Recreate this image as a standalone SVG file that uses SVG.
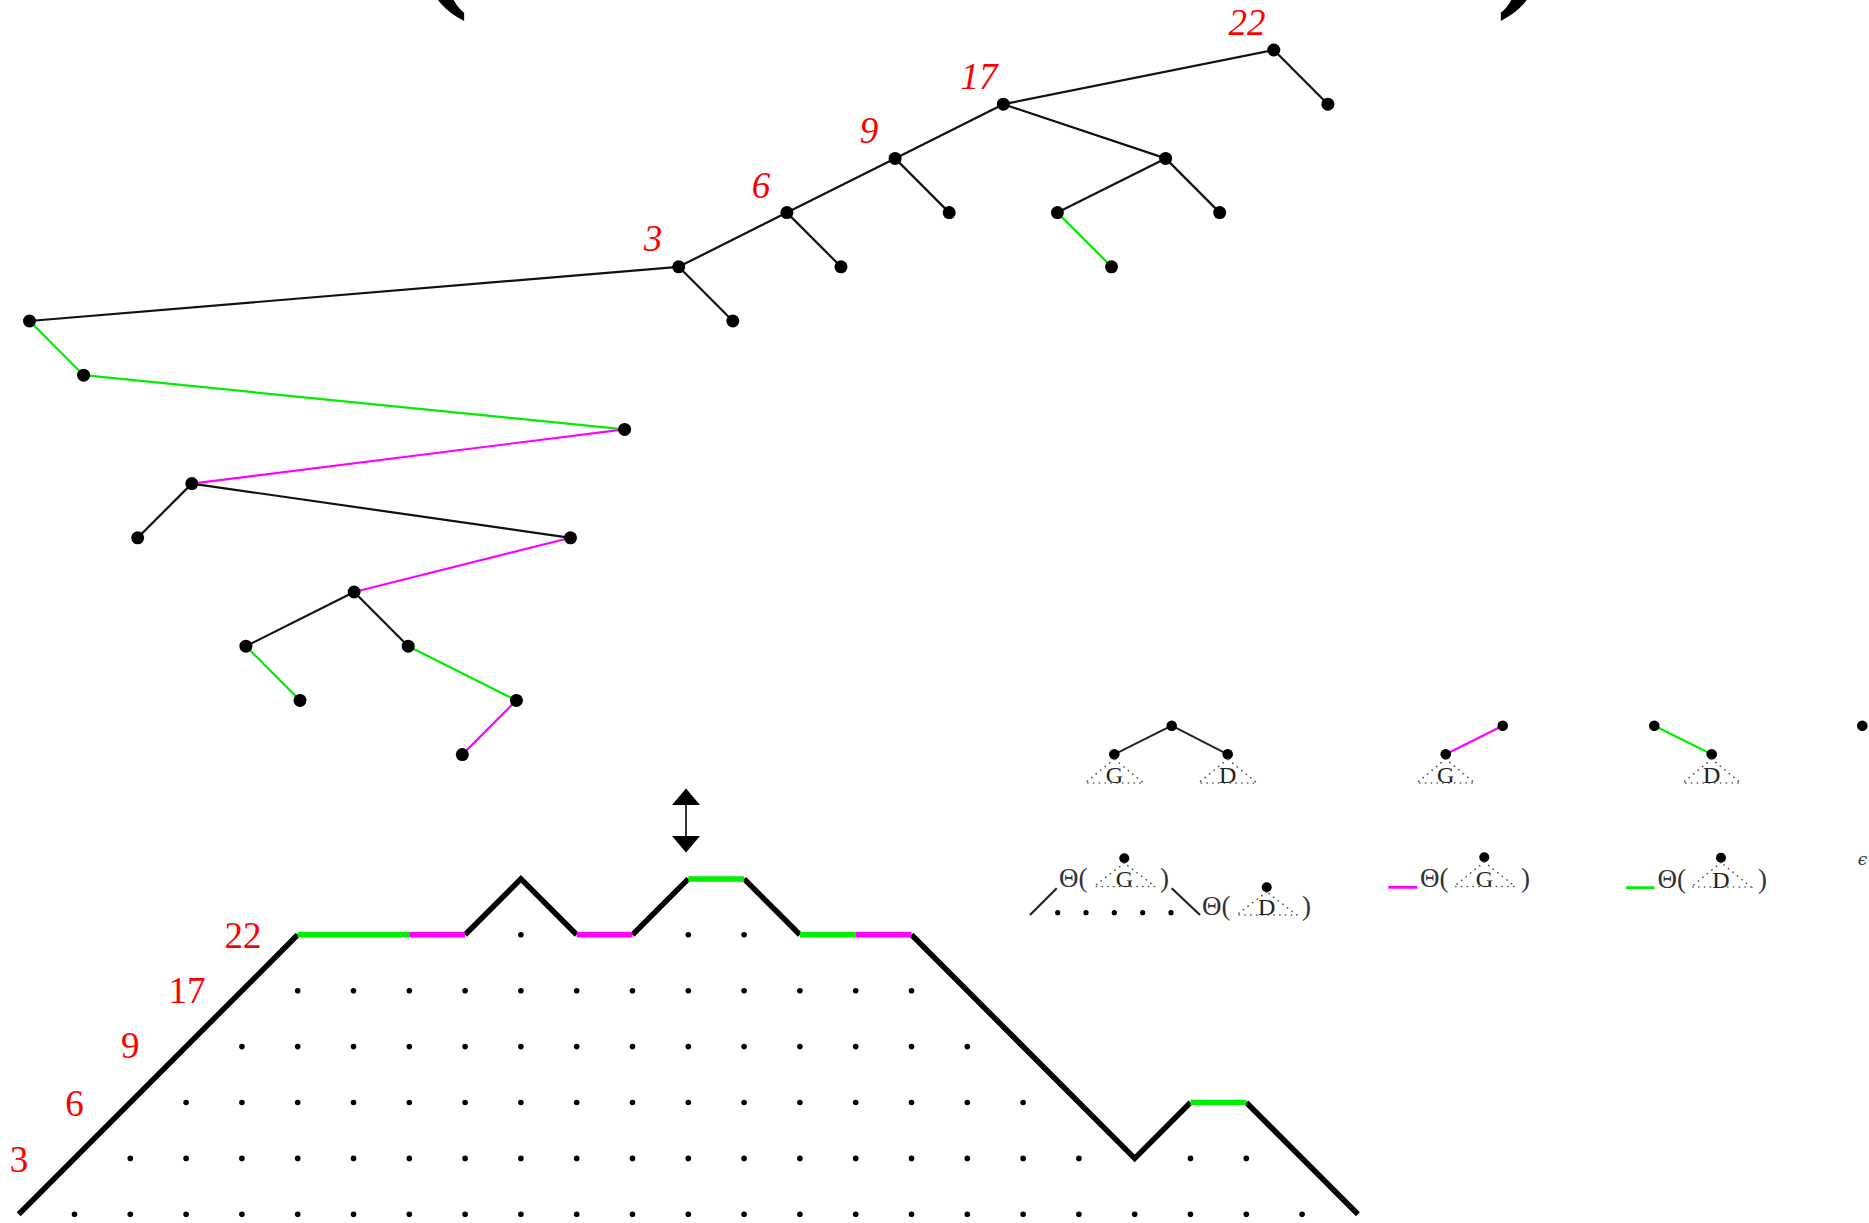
<svg xmlns="http://www.w3.org/2000/svg" width="1869" height="1223" viewBox="0 0 1869 1223">
<style>
.e{stroke:#111;stroke-width:2.2;fill:none}
.eg{stroke:#00ee00;stroke-width:2.2;fill:none}
.em{stroke:#ff00ff;stroke-width:2.2;fill:none}
.nd{fill:#000}
.lab{font-family:"Liberation Serif",serif;font-style:italic;font-size:37px;fill:#ff0000;text-anchor:middle}
.hl{font-family:"Liberation Serif",serif;font-size:37px;fill:#ff0000;text-anchor:middle}
.pb{stroke:#000;stroke-width:5.5;fill:none;stroke-linejoin:miter}
.pg{stroke:#00ee00;stroke-width:5.5;fill:none}
.pm{stroke:#ff00ff;stroke-width:5.5;fill:none}
.tri{fill:none;stroke:#555;stroke-width:1.6;stroke-dasharray:0.3 5.5;stroke-linecap:round}
.lt{font-family:"Liberation Serif",serif;font-size:27px;fill:#333}
.gd{font-family:"Liberation Serif",serif;font-size:24px;fill:#222;text-anchor:middle}
.par{font-family:"Liberation Serif",serif;font-size:150px;font-weight:bold;fill:#000}
</style>
<defs>
<marker id="ah" markerUnits="userSpaceOnUse" markerWidth="17" markerHeight="28" refX="0" refY="13.5" orient="auto-start-reverse" viewBox="0 0 16 27">
<path d="M0,0 L16,13.5 L0,27 z" fill="#000"/>
</marker>
</defs>

<g id="top-parens">
<text class="par" x="419" y="-11">(</text>
<text class="par" x="1496" y="-11">)</text>
</g>

<g id="connectors">
<line class="e" x1="1273.8" y1="50" x2="1003.3" y2="104.2"/>
<line class="e" x1="1273.8" y1="50" x2="1327.9" y2="104.2"/>
<line class="e" x1="1003.3" y1="104.2" x2="895.1" y2="158.4"/>
<line class="e" x1="1003.3" y1="104.2" x2="1165.6" y2="158.4"/>
<line class="e" x1="1165.6" y1="158.4" x2="1057.4" y2="212.6"/>
<line class="e" x1="1165.6" y1="158.4" x2="1219.7" y2="212.6"/>
<line class="e" x1="895.1" y1="158.4" x2="786.9" y2="212.6"/>
<line class="e" x1="895.1" y1="158.4" x2="949.2" y2="212.6"/>
<line class="e" x1="786.9" y1="212.6" x2="678.7" y2="266.8"/>
<line class="e" x1="786.9" y1="212.6" x2="841.0" y2="266.8"/>
<line class="e" x1="678.7" y1="266.8" x2="29.5" y2="321"/>
<line class="e" x1="678.7" y1="266.8" x2="732.8" y2="321"/>
<line class="e" x1="191.8" y1="483.6" x2="137.7" y2="537.8"/>
<line class="e" x1="191.8" y1="483.6" x2="570.5" y2="537.8"/>
<line class="e" x1="354.1" y1="592" x2="245.9" y2="646.2"/>
<line class="e" x1="354.1" y1="592" x2="408.2" y2="646.2"/>
<line class="eg" x1="1057.4" y1="212.6" x2="1111.5" y2="266.8"/>
<line class="eg" x1="29.5" y1="321" x2="83.6" y2="375.2"/>
<line class="eg" x1="83.6" y1="375.2" x2="624.6" y2="429.4"/>
<line class="eg" x1="245.9" y1="646.2" x2="300.0" y2="700.4"/>
<line class="eg" x1="408.2" y1="646.2" x2="516.4" y2="700.4"/>
<line class="em" x1="624.6" y1="429.4" x2="191.8" y2="483.6"/>
<line class="em" x1="570.5" y1="537.8" x2="354.1" y2="592"/>
<line class="em" x1="516.4" y1="700.4" x2="462.3" y2="754.6"/>
</g>

<g id="tree-nodes">
<g id="n22"><circle class="nd" cx="1273.8" cy="50" r="6.5"/><text class="lab" x="1247" y="35">22</text></g>
<g id="n22r"><circle class="nd" cx="1327.9" cy="104.2" r="6.5"/></g>
<g id="n17"><circle class="nd" cx="1003.3" cy="104.2" r="6.5"/><text class="lab" x="979" y="89">17</text></g>
<g id="n9"><circle class="nd" cx="895.1" cy="158.4" r="6.5"/><text class="lab" x="869" y="143">9</text></g>
<g id="n9r"><circle class="nd" cx="949.2" cy="212.6" r="6.5"/></g>
<g id="n17r"><circle class="nd" cx="1165.6" cy="158.4" r="6.5"/></g>
<g id="n17rl"><circle class="nd" cx="1057.4" cy="212.6" r="6.5"/></g>
<g id="n17rr"><circle class="nd" cx="1219.7" cy="212.6" r="6.5"/></g>
<g id="n17rlr"><circle class="nd" cx="1111.5" cy="266.8" r="6.5"/></g>
<g id="n6"><circle class="nd" cx="786.9" cy="212.6" r="6.5"/><text class="lab" x="761" y="198">6</text></g>
<g id="n6r"><circle class="nd" cx="841.0" cy="266.8" r="6.5"/></g>
<g id="n3"><circle class="nd" cx="678.7" cy="266.8" r="6.5"/><text class="lab" x="653" y="251">3</text></g>
<g id="n3r"><circle class="nd" cx="732.8" cy="321" r="6.5"/></g>
<g id="nA"><circle class="nd" cx="29.5" cy="321" r="6.5"/></g>
<g id="nB"><circle class="nd" cx="83.6" cy="375.2" r="6.5"/></g>
<g id="nC"><circle class="nd" cx="624.6" cy="429.4" r="6.5"/></g>
<g id="nD"><circle class="nd" cx="191.8" cy="483.6" r="6.5"/></g>
<g id="nE"><circle class="nd" cx="137.7" cy="537.8" r="6.5"/></g>
<g id="nF"><circle class="nd" cx="570.5" cy="537.8" r="6.5"/></g>
<g id="nG"><circle class="nd" cx="354.1" cy="592" r="6.5"/></g>
<g id="nH"><circle class="nd" cx="245.9" cy="646.2" r="6.5"/></g>
<g id="nI"><circle class="nd" cx="408.2" cy="646.2" r="6.5"/></g>
<g id="nJ"><circle class="nd" cx="300.0" cy="700.4" r="6.5"/></g>
<g id="nK"><circle class="nd" cx="516.4" cy="700.4" r="6.5"/></g>
<g id="nL"><circle class="nd" cx="462.3" cy="754.6" r="6.5"/></g>
</g>

<g id="arrow">
<line x1="686" y1="805" x2="686" y2="836" stroke="#000" stroke-width="1.6" marker-start="url(#ah)" marker-end="url(#ah)"/>
</g>

<g id="lattice-dots" fill="#000">
<circle cx="74.5" cy="1214.3" r="2.8"/><circle cx="130.3" cy="1214.3" r="2.8"/><circle cx="186.1" cy="1214.3" r="2.8"/><circle cx="241.9" cy="1214.3" r="2.8"/><circle cx="297.7" cy="1214.3" r="2.8"/><circle cx="353.5" cy="1214.3" r="2.8"/><circle cx="409.3" cy="1214.3" r="2.8"/><circle cx="465.1" cy="1214.3" r="2.8"/><circle cx="520.9" cy="1214.3" r="2.8"/><circle cx="576.7" cy="1214.3" r="2.8"/><circle cx="632.5" cy="1214.3" r="2.8"/><circle cx="688.3" cy="1214.3" r="2.8"/><circle cx="744.1" cy="1214.3" r="2.8"/><circle cx="799.9" cy="1214.3" r="2.8"/><circle cx="855.7" cy="1214.3" r="2.8"/><circle cx="911.5" cy="1214.3" r="2.8"/><circle cx="967.3" cy="1214.3" r="2.8"/><circle cx="1023.1" cy="1214.3" r="2.8"/><circle cx="1078.9" cy="1214.3" r="2.8"/><circle cx="1134.7" cy="1214.3" r="2.8"/><circle cx="1190.5" cy="1214.3" r="2.8"/><circle cx="1246.3" cy="1214.3" r="2.8"/><circle cx="1302.1" cy="1214.3" r="2.8"/>
<circle cx="130.3" cy="1158.4" r="2.8"/><circle cx="186.1" cy="1158.4" r="2.8"/><circle cx="241.9" cy="1158.4" r="2.8"/><circle cx="297.7" cy="1158.4" r="2.8"/><circle cx="353.5" cy="1158.4" r="2.8"/><circle cx="409.3" cy="1158.4" r="2.8"/><circle cx="465.1" cy="1158.4" r="2.8"/><circle cx="520.9" cy="1158.4" r="2.8"/><circle cx="576.7" cy="1158.4" r="2.8"/><circle cx="632.5" cy="1158.4" r="2.8"/><circle cx="688.3" cy="1158.4" r="2.8"/><circle cx="744.1" cy="1158.4" r="2.8"/><circle cx="799.9" cy="1158.4" r="2.8"/><circle cx="855.7" cy="1158.4" r="2.8"/><circle cx="911.5" cy="1158.4" r="2.8"/><circle cx="967.3" cy="1158.4" r="2.8"/><circle cx="1023.1" cy="1158.4" r="2.8"/><circle cx="1078.9" cy="1158.4" r="2.8"/><circle cx="1190.5" cy="1158.4" r="2.8"/><circle cx="1246.3" cy="1158.4" r="2.8"/>
<circle cx="186.1" cy="1102.5" r="2.8"/><circle cx="241.9" cy="1102.5" r="2.8"/><circle cx="297.7" cy="1102.5" r="2.8"/><circle cx="353.5" cy="1102.5" r="2.8"/><circle cx="409.3" cy="1102.5" r="2.8"/><circle cx="465.1" cy="1102.5" r="2.8"/><circle cx="520.9" cy="1102.5" r="2.8"/><circle cx="576.7" cy="1102.5" r="2.8"/><circle cx="632.5" cy="1102.5" r="2.8"/><circle cx="688.3" cy="1102.5" r="2.8"/><circle cx="744.1" cy="1102.5" r="2.8"/><circle cx="799.9" cy="1102.5" r="2.8"/><circle cx="855.7" cy="1102.5" r="2.8"/><circle cx="911.5" cy="1102.5" r="2.8"/><circle cx="967.3" cy="1102.5" r="2.8"/><circle cx="1023.1" cy="1102.5" r="2.8"/>
<circle cx="241.9" cy="1046.6" r="2.8"/><circle cx="297.7" cy="1046.6" r="2.8"/><circle cx="353.5" cy="1046.6" r="2.8"/><circle cx="409.3" cy="1046.6" r="2.8"/><circle cx="465.1" cy="1046.6" r="2.8"/><circle cx="520.9" cy="1046.6" r="2.8"/><circle cx="576.7" cy="1046.6" r="2.8"/><circle cx="632.5" cy="1046.6" r="2.8"/><circle cx="688.3" cy="1046.6" r="2.8"/><circle cx="744.1" cy="1046.6" r="2.8"/><circle cx="799.9" cy="1046.6" r="2.8"/><circle cx="855.7" cy="1046.6" r="2.8"/><circle cx="911.5" cy="1046.6" r="2.8"/><circle cx="967.3" cy="1046.6" r="2.8"/>
<circle cx="297.7" cy="990.7" r="2.8"/><circle cx="353.5" cy="990.7" r="2.8"/><circle cx="409.3" cy="990.7" r="2.8"/><circle cx="465.1" cy="990.7" r="2.8"/><circle cx="520.9" cy="990.7" r="2.8"/><circle cx="576.7" cy="990.7" r="2.8"/><circle cx="632.5" cy="990.7" r="2.8"/><circle cx="688.3" cy="990.7" r="2.8"/><circle cx="744.1" cy="990.7" r="2.8"/><circle cx="799.9" cy="990.7" r="2.8"/><circle cx="855.7" cy="990.7" r="2.8"/><circle cx="911.5" cy="990.7" r="2.8"/>
<circle cx="520.9" cy="934.8" r="2.8"/><circle cx="688.3" cy="934.8" r="2.8"/><circle cx="744.1" cy="934.8" r="2.8"/>
</g>

<g id="lattice-path">
<polyline class="pb" points="18.7,1214.3 297.7,934.8"/>
<polyline class="pb" points="465.1,934.8 520.9,878.9 576.7,934.8"/>
<polyline class="pb" points="632.5,934.8 688.3,878.9"/>
<polyline class="pb" points="744.1,878.9 799.9,934.8"/>
<polyline class="pb" points="911.5,934.8 1134.7,1158.4 1190.5,1102.5"/>
<polyline class="pb" points="1246.3,1102.5 1357.9,1214.3"/>
<line class="pg" x1="297.7" y1="934.8" x2="409.3" y2="934.8"/>
<line class="pm" x1="409.3" y1="934.8" x2="465.1" y2="934.8"/>
<line class="pm" x1="576.7" y1="934.8" x2="632.5" y2="934.8"/>
<line class="pg" x1="688.3" y1="878.9" x2="744.1" y2="878.9"/>
<line class="pg" x1="799.9" y1="934.8" x2="855.7" y2="934.8"/>
<line class="pm" x1="855.7" y1="934.8" x2="911.5" y2="934.8"/>
<line class="pg" x1="1190.5" y1="1102.5" x2="1246.3" y2="1102.5"/>
</g>

<g id="height-labels">
<text class="hl" x="19" y="1172">3</text>
<text class="hl" x="74.5" y="1116">6</text>
<text class="hl" x="130.3" y="1058">9</text>
<text class="hl" x="187" y="1003">17</text>
<text class="hl" x="243" y="948">22</text>
</g>

<g id="legend-tree">
<line x1="1171.7" y1="725.7" x2="1114.3" y2="754.3" stroke="#222" stroke-width="2"/>
<line x1="1171.7" y1="725.7" x2="1227.7" y2="754.3" stroke="#222" stroke-width="2"/>
<circle class="nd" cx="1171.7" cy="725.7" r="5.3"/>
<circle class="nd" cx="1114.3" cy="754.3" r="5.3"/>
<circle class="nd" cx="1227.7" cy="754.3" r="5.3"/>
<polygon class="tri" points="1114.3,759 1085,783 1143.6,783"/>
<polygon class="tri" points="1227.7,759 1198.4,783 1257,783"/>
<text class="gd" x="1114.3" y="783">G</text>
<text class="gd" x="1227.7" y="783">D</text>
</g>
<g id="legend-left">
<line x1="1502.7" y1="725.7" x2="1445.7" y2="754.3" stroke="#ff00ff" stroke-width="2.2"/>
<circle class="nd" cx="1502.7" cy="725.7" r="5.3"/>
<circle class="nd" cx="1445.7" cy="754.3" r="5.3"/>
<polygon class="tri" points="1445.7,759 1416.7,783 1474.7,783"/>
<text class="gd" x="1445.7" y="783">G</text>
</g>
<g id="legend-right">
<line x1="1654.3" y1="725.7" x2="1711.7" y2="754.3" stroke="#00ee00" stroke-width="2.2"/>
<circle class="nd" cx="1654.3" cy="725.7" r="5.3"/>
<circle class="nd" cx="1711.7" cy="754.3" r="5.3"/>
<polygon class="tri" points="1711.7,759 1682.7,783 1740.7,783"/>
<text class="gd" x="1711.7" y="783">D</text>
</g>
<g id="legend-leaf">
<circle class="nd" cx="1862.3" cy="725.7" r="5.3"/>
</g>

<g id="formula-tree">
<text class="lt" x="1059" y="887">Θ(</text>
<circle class="nd" cx="1124.3" cy="858.3" r="5"/>
<polygon class="tri" points="1124.3,863 1094,886.5 1155,886.5"/>
<text class="gd" x="1124.3" y="886.7">G</text>
<text class="lt" x="1160" y="887">)</text>
<line x1="1030" y1="915" x2="1056.7" y2="888.3" stroke="#222" stroke-width="2.2"/>
<circle class="nd" cx="1057.7" cy="912.7" r="2.6"/><circle class="nd" cx="1086" cy="912.7" r="2.6"/><circle class="nd" cx="1114.3" cy="912.7" r="2.6"/><circle class="nd" cx="1142.7" cy="912.7" r="2.6"/><circle class="nd" cx="1171" cy="912.7" r="2.6"/>
<line x1="1171.7" y1="888.3" x2="1200" y2="915" stroke="#222" stroke-width="2.2"/>
<text class="lt" x="1202" y="915">Θ(</text>
<circle class="nd" cx="1266.7" cy="887.3" r="5"/>
<polygon class="tri" points="1266.7,892 1236.5,915 1297,915"/>
<text class="gd" x="1266.7" y="915">D</text>
<text class="lt" x="1302" y="915">)</text>
</g>
<g id="formula-left">
<line x1="1388.3" y1="887.3" x2="1417.3" y2="887.3" stroke="#ff00ff" stroke-width="2.8"/>
<text class="lt" x="1420" y="887">Θ(</text>
<circle class="nd" cx="1484.3" cy="857.3" r="5"/>
<polygon class="tri" points="1484.3,862 1454,886.5 1515,886.5"/>
<text class="gd" x="1484.3" y="886.7">G</text>
<text class="lt" x="1521" y="887">)</text>
</g>
<g id="formula-right">
<line x1="1626" y1="887.7" x2="1654.3" y2="887.7" stroke="#00ee00" stroke-width="2.8"/>
<text class="lt" x="1657.5" y="888">Θ(</text>
<circle class="nd" cx="1721" cy="857.7" r="5"/>
<polygon class="tri" points="1721,862.5 1691,887 1751,887"/>
<text class="gd" x="1721" y="888">D</text>
<text class="lt" x="1758" y="888">)</text>
</g>
<g id="formula-leaf">
<text x="1862.5" y="865" font-family="'DejaVu Serif',serif" font-style="italic" font-size="17px" fill="#333" text-anchor="middle">ϵ</text>
</g>
</svg>
